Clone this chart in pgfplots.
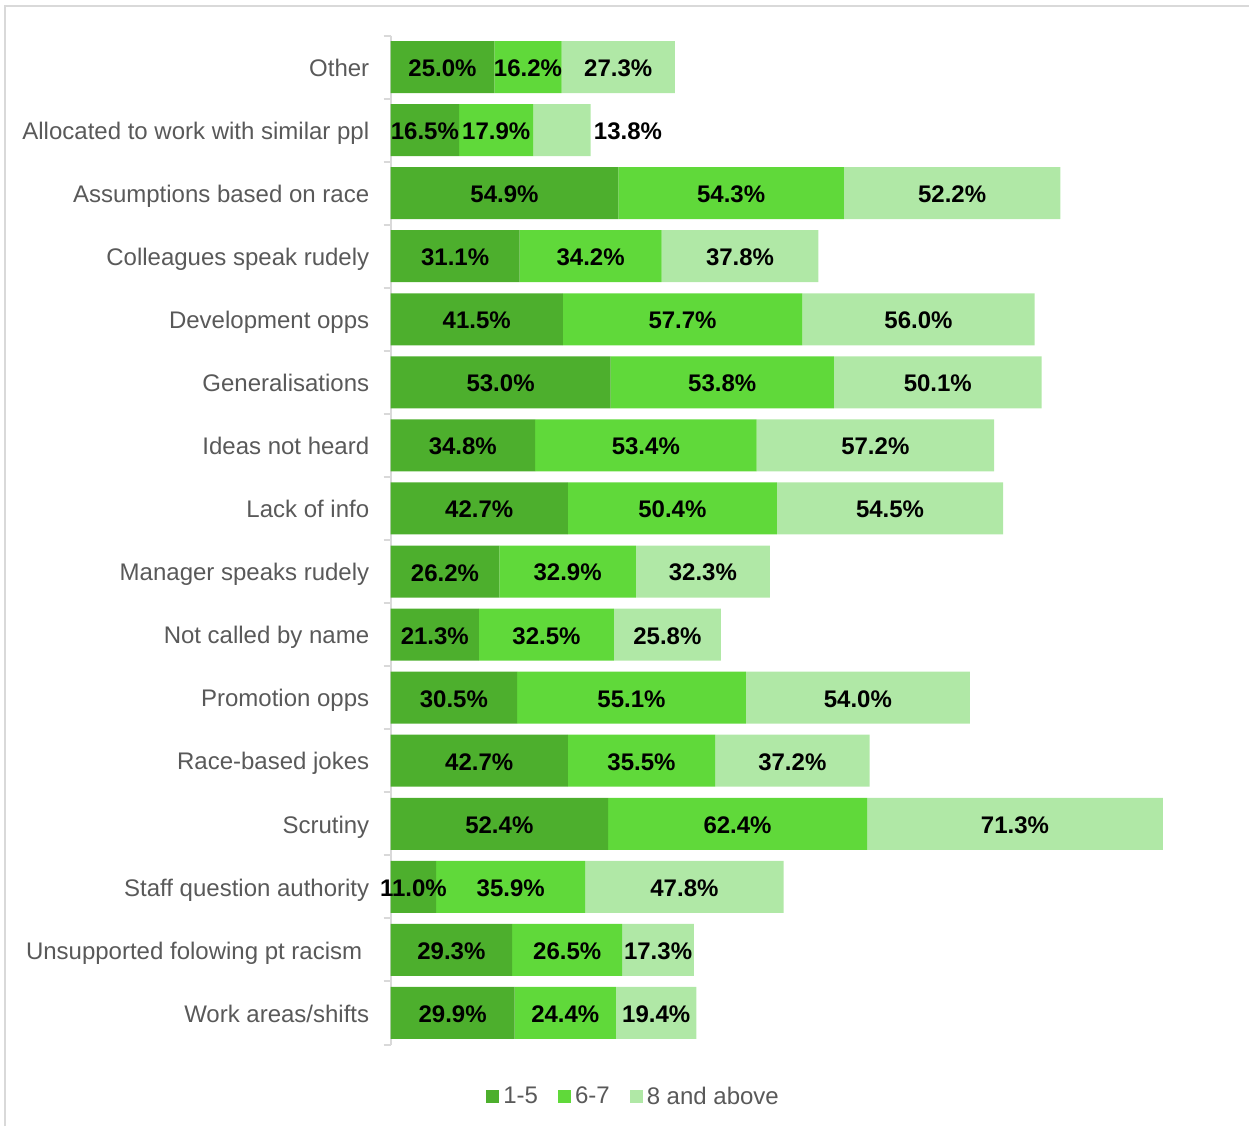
\documentclass[border=0pt]{standalone}
\usepackage{fontspec}
\setmainfont{Liberation Sans}
\usepackage{pgfplots}
\usepackage{pgfplotstable}
\pgfplotsset{compat=1.18}
\definecolor{g1}{RGB}{77,175,45}
\definecolor{g2}{RGB}{96,217,58}
\definecolor{g3}{RGB}{176,232,166}
\definecolor{axgray}{RGB}{217,217,217}
\definecolor{txtgray}{RGB}{89,89,89}
\newcommand\fs{\fontsize{12}{14}\selectfont}

\pgfplotstableread{
idx a b c coff
0 25.0 16.2 27.3 0
1 16.5 17.9 13.8 15.9
2 54.9 54.3 52.2 0
3 31.1 34.2 37.8 0
4 41.5 57.7 56.0 0
5 53.0 53.8 50.1 0
6 34.8 53.4 57.2 0
7 42.7 50.4 54.5 0
8 26.2 32.9 32.3 0
9 21.3 32.5 25.8 0
10 30.5 55.1 54.0 0
11 42.7 35.5 37.2 0
12 52.4 62.4 71.3 0
13 11.0 35.9 47.8 0
14 29.3 26.5 17.3 0
15 29.9 24.4 19.4 0
}\data

\pgfplotsset{base/.style={
  scale only axis, width=415pt, height=504.5pt,
  xmin=0, xmax=200, ymin=-0.5, ymax=15.5, y dir=reverse,
  at={(195.3pt,-17.75pt)}, anchor=north west, clip=false}}

\begin{document}
\begin{tikzpicture}
\useasboundingbox (0,0) rectangle (624.5pt,-563pt);
\draw[axgray, line width=1pt] (2.5pt,-563pt) -- (2.5pt,-3pt) -- (624.5pt,-3pt);
\begin{axis}[base, xbar stacked, bar width=26pt,
  hide x axis, axis y line*=left,
  y axis line style={-, draw=axgray, line width=1pt},
  ytick={0,...,15},
  yticklabels={Other, Allocated to work with similar ppl, Assumptions based on race,
    Colleagues speak rudely, Development opps, Generalisations, Ideas not heard,
    Lack of info, Manager speaks rudely, Not called by name, Promotion opps,
    Race-based jokes, Scrutiny, Staff question authority,
    Unsupported folowing pt racism\kern3.5pt, Work areas/shifts},
  major tick length=0pt,
  minor ytick={-0.5,0.5,...,15.5},
  minor tick length=3.5pt, tick align=outside,
  minor tick style={draw=axgray, line width=1pt},
  yticklabel style={font=\fs, text=txtgray, inner sep=0pt, xshift=-10.5pt, anchor=base east, yshift=-4.6pt},
  legend style={at={(0.294,-0.052)}, anchor=center, draw=none, font=\fs, text=txtgray,
    legend columns=3, /tikz/every even column/.append style={column sep=8pt}},
  legend image code/.code={\fill[#1] (0pt,-3.25pt) rectangle (6.5pt,3.25pt);},
]
\addplot[fill=g1, draw=none] table[x=a, y=idx]{\data};
\addplot[fill=g2, draw=none] table[x=b, y=idx]{\data};
\addplot[fill=g3, draw=none] table[x=c, y=idx]{\data};
\legend{1-5, 6-7, 8 and above}
\end{axis}
\begin{axis}[base, hide axis,
  nodes near coords={\pgfmathprintnumber[fixed, fixed zerofill, precision=1, assume math mode=true]{\pgfplotspointmeta}\%},
  nodes near coords align={center},
  every node near coord/.append style={font=\fs\bfseries, text=black, inner sep=0pt, yshift=-0.6pt},
]
\addplot[draw=none, mark=none, point meta=explicit] table[x expr=\thisrow{a}/2, y=idx, meta=a]{\data};
\addplot[draw=none, mark=none, point meta=explicit] table[x expr=\thisrow{a}+\thisrow{b}/2, y=idx, meta=b]{\data};
\addplot[draw=none, mark=none, point meta=explicit] table[x expr=\thisrow{a}+\thisrow{b}+\thisrow{c}/2+\thisrow{coff}, y=idx, meta=c]{\data};
\end{axis}
\end{tikzpicture}
\end{document}
